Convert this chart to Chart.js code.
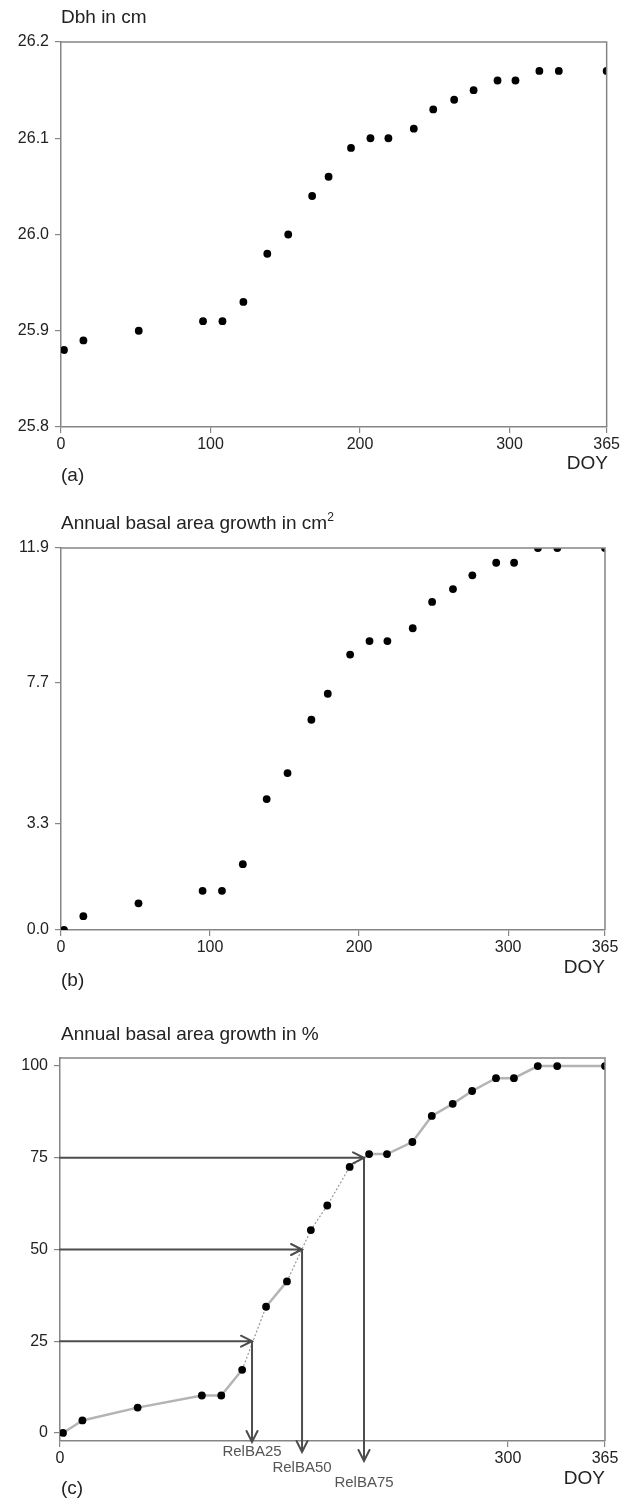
<!DOCTYPE html>
<html>
<head>
<meta charset="utf-8">
<script src="https://cdn.jsdelivr.net/npm/chart.js@4.4.1/dist/chart.umd.min.js"></script>
<style>
  body { margin: 0; background: #fff; font-family: "Liberation Sans", Arial, sans-serif; color: #222; }
  #wrap { position: relative; width: 622px; height: 1503px; overflow: hidden; }
  canvas { position: absolute; left: 0; }
  .t { position: absolute; font-size: 19px; line-height: 19px; white-space: nowrap; }
  sup { font-size: 12px; vertical-align: 8px; line-height: 0; }
</style>
</head>
<body>
<div id="wrap">
  <canvas id="chartA" width="622" height="470" style="top:0px"></canvas>
  <canvas id="chartB" width="622" height="470" style="top:500px"></canvas>
  <canvas id="chartC" width="622" height="503" style="top:1000px"></canvas>

  <div class="t" style="left:61px;top:7px">Dbh in cm</div>
  <div class="t" style="right:14px;top:453px">DOY</div>
  <div class="t" style="left:61px;top:465px">(a)</div>

  <div class="t" style="left:61px;top:513px">Annual basal area growth in cm<sup>2</sup></div>
  <div class="t" style="right:17px;top:957px">DOY</div>
  <div class="t" style="left:61px;top:970px">(b)</div>

  <div class="t" style="left:61px;top:1024px">Annual basal area growth in %</div>
  <div class="t" style="right:17px;top:1468px">DOY</div>
  <div class="t" style="left:61px;top:1478px">(c)</div>
</div>

<script>
// day of year of each measurement
const doy = [2, 15, 52, 95, 108, 122, 138, 152, 168, 179, 194, 207, 219, 236, 249, 263, 276, 292, 304, 320, 333, 365];
// (a) stem diameter
const dbh = [25.88, 25.89, 25.90, 25.91, 25.91, 25.93, 25.98, 26.00, 26.04, 26.06, 26.09, 26.10, 26.10, 26.11, 26.13, 26.14, 26.15, 26.16, 26.16, 26.17, 26.17, 26.17];
// (b) cumulative basal area growth, cm2
const baGrowth = [0.0, 0.43, 0.83, 1.22, 1.22, 2.05, 4.08, 4.89, 6.55, 7.36, 8.58, 9.00, 9.00, 9.40, 10.22, 10.62, 11.05, 11.44, 11.44, 11.9, 11.9, 11.9];
// (c) cumulative basal area growth, %
const baPercent = [0, 3.4, 6.9, 10.2, 10.2, 17.2, 34.4, 41.3, 55.3, 62.0, 72.5, 76.0, 76.0, 79.3, 86.4, 89.7, 93.2, 96.7, 96.7, 100, 100, 100];
// segments (start index) drawn as thin dotted interpolation
const dottedSegments = [5, 7, 8, 9, 10];

// RelBA thresholds
const relNames = ["RelBA25", "RelBA50", "RelBA75"];
const relLevels = [25, 50, 75];
const relDoy = [128.6, 162.1, 203.6];

// tick labels
const xTicks = [0, 100, 200, 300, 365];
const xTicksC = [0, 300, 365];
const yTicksA = [25.8, 25.9, 26.0, 26.1, 26.2];
const yTicksB = [0, 3.3, 7.7, 11.9];
const yTicksC = [0, 25, 50, 75, 100];

const axisColor = "#858585";
const tickFont = { family: "Liberation Sans", size: 16 };

function pts(ys) {
  return doy.map((d, i) => ({ x: d, y: ys[i] }));
}

// top and right sides of the frame
const boxPlugin = {
  id: "box",
  afterDraw(chart) {
    const { ctx, chartArea: a } = chart;
    ctx.save();
    ctx.strokeStyle = axisColor;
    ctx.lineWidth = 1.5;
    ctx.beginPath();
    ctx.moveTo(a.left, a.top);
    ctx.lineTo(a.right, a.top);
    ctx.lineTo(a.right, a.bottom);
    ctx.stroke();
    ctx.restore();
  }
};

function xAxis(ticks) {
  return {
    type: "linear", min: 0, max: 365,
    afterBuildTicks: s => { s.ticks = ticks.map(v => ({ value: v })); },
    afterFit: s => { s.height = 30; },
    grid: { drawOnChartArea: false, drawTicks: true, tickLength: 6, color: axisColor, lineWidth: 1.2 },
    border: { display: true, color: axisColor, width: 1.5 },
    ticks: { color: "#222", font: tickFont, padding: 2, maxRotation: 0, callback: v => String(v) }
  };
}

function yAxis(min, max, ticks, fmt) {
  return {
    type: "linear", min: min, max: max,
    afterBuildTicks: s => { s.ticks = ticks.map(v => ({ value: v })); },
    afterFit: s => { s.width = s.chart.options.yWidth; },
    grid: { drawOnChartArea: false, drawTicks: true, tickLength: 6, color: axisColor, lineWidth: 1.2 },
    border: { display: true, color: axisColor, width: 1.5 },
    ticks: { color: "#222", font: tickFont, padding: 6, callback: fmt }
  };
}

function makeChart(id, datasets, xs, ys, padding, yWidth, extra) {
  return new Chart(document.getElementById(id), {
    type: "scatter",
    data: { datasets: datasets },
    options: {
      responsive: false,
      animation: false,
      events: [],
      yWidth: yWidth,
      layout: { padding: padding },
      plugins: { legend: { display: false }, tooltip: { enabled: false } },
      scales: { x: xs, y: ys }
    },
    plugins: [boxPlugin].concat(extra || [])
  });
}

const dotStyle = {
  showLine: false, pointRadius: 3.9, pointBackgroundColor: "#000",
  pointBorderWidth: 0, borderColor: "#000", clip: 0
};

// (a)
makeChart("chartA",
  [Object.assign({ data: pts(dbh) }, dotStyle)],
  xAxis(xTicks),
  yAxis(25.8, 26.2, yTicksA, v => v.toFixed(1)),
  { left: 0, top: 42, right: 14, bottom: 13 }, 61);

// (b)
makeChart("chartB",
  [Object.assign({ data: pts(baGrowth) }, dotStyle)],
  xAxis(xTicks),
  yAxis(0, 11.9, yTicksB, v => v.toFixed(1)),
  { left: 0, top: 48, right: 17, bottom: 10 }, 61);

// arrows from the y axis to the curve and down to the DOY axis
const arrowPlugin = {
  id: "arrows",
  afterDraw(chart) {
    const { ctx, chartArea: a } = chart;
    const sx = chart.scales.x, sy = chart.scales.y;
    const tipDrop = [1, 11, 20];
    const labelDrop = [11, 27, 42];
    ctx.save();
    ctx.strokeStyle = "#4d4d4d";
    ctx.lineWidth = 2;
    ctx.lineCap = "round";
    relLevels.forEach((lev, i) => {
      const x = sx.getPixelForValue(relDoy[i]);
      const y = sy.getPixelForValue(lev);
      const yTip = a.bottom + tipDrop[i];
      ctx.beginPath();
      ctx.moveTo(a.left, y);
      ctx.lineTo(x, y);
      ctx.moveTo(x - 11, y - 5.5);
      ctx.lineTo(x, y);
      ctx.lineTo(x - 11, y + 5.5);
      ctx.moveTo(x, y);
      ctx.lineTo(x, yTip);
      ctx.moveTo(x - 5.5, yTip - 11);
      ctx.lineTo(x, yTip);
      ctx.lineTo(x + 5.5, yTip - 11);
      ctx.stroke();
      ctx.fillStyle = "#555";
      ctx.font = "15px 'Liberation Sans'";
      ctx.textAlign = "center";
      ctx.textBaseline = "middle";
      ctx.fillText(relNames[i], x, a.bottom + labelDrop[i]);
    });
    ctx.restore();
  }
};

// (c)
makeChart("chartC",
  [Object.assign({}, dotStyle, {
    data: pts(baPercent),
    showLine: true,
    borderColor: "#b4b4b4",
    borderWidth: 2.5,
    segment: {
      borderDash: c => dottedSegments.includes(c.p0DataIndex) ? [2, 2] : undefined,
      borderWidth: c => dottedSegments.includes(c.p0DataIndex) ? 1.2 : undefined,
      borderColor: c => dottedSegments.includes(c.p0DataIndex) ? "#999" : undefined
    }
  })],
  xAxis(xTicksC),
  yAxis(-2.2, 102.2, yTicksC, v => String(v)),
  { left: 0, top: 58, right: 17, bottom: 32 }, 60,
  [arrowPlugin]);
</script>
</body>
</html>
